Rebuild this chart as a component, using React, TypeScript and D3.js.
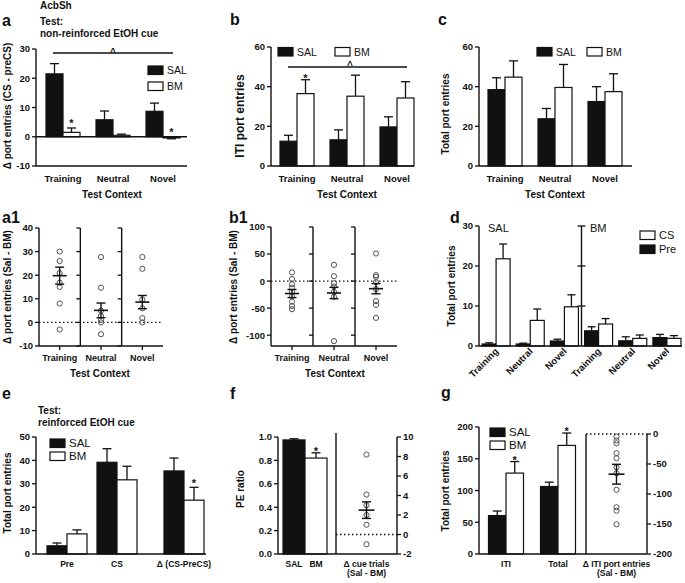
import React from "react";
import * as d3 from "d3";

const FONT = "'Liberation Sans', Arial, Helvetica, sans-serif";
const INK = "#111";

// ---------- data ----------
const contexts = ["Training", "Neutral", "Novel"];

// a: delta port entries (CS - preCS)
const aSalMean = [21.5, 5.8, 8.7];
const aSalSem = [3.5, 3.0, 2.8];
const aBmMean = [1.5, 0.5, -0.4];
const aBmSem = [1.5, 0.4, 0.3];

// b: ITI port entries
const bSalMean = [12.5, 13.2, 19.7];
const bSalSem = [3.0, 5.0, 5.1];
const bBmMean = [36.5, 35.2, 34.3];
const bBmSem = [7.0, 10.6, 8.2];

// c: total port entries
const cSalMean = [38.5, 23.8, 32.5];
const cSalSem = [6.0, 5.2, 7.5];
const cBmMean = [44.8, 39.6, 37.5];
const cBmSem = [8.2, 11.6, 9.0];

// a1: individual differences (Sal - BM)
const a1Training = [30, 26, 20.9, 16.8, 15, 8, -3];
const a1Neutral = [27.7, 14.7, 5, 2.7, 1.1, 0, -5];
const a1Novel = [27.7, 22.7, 9.7, 6, 1.8, 0];
const a1Mean = [19.8, 5.1, 8.6];
const a1Sem = [3.6, 3.1, 2.8];

// b1
const b1Training = [16, 3.7, -6, -12, -20, -28, -38, -46, -52];
const b1Neutral = [30, 9, -4, -10, -20, -29, -111];
const b1Novel = [51, 11, 8, -2, -15, -37, -44, -68];
const b1Mean = [-23, -22, -14];
const b1Sem = [7.5, 10.5, 9.5];

// d: pre vs CS per group & context
const dGroups = ["SAL", "BM"];
const dLabels = ["Training", "Neutral", "Novel", "Training", "Neutral", "Novel"];
const dPreMean = [0.5, 0.5, 1.25, 3.8, 1.3, 2.1];
const dPreSem = [0.3, 0.2, 0.45, 1.0, 1.0, 0.8];
const dCsMean = [21.8, 6.4, 9.8, 5.5, 1.9, 1.9];
const dCsSem = [3.7, 2.85, 3.0, 1.35, 0.85, 0.7];

// e: reinforced cue test
const eCats = ["Pre", "CS", "Δ (CS-PreCS)"];
const eCatOffset = [0, 1, 2.34];
const eSalMean = [3.5, 39.2, 35.5];
const eSalSem = [1.2, 5.8, 5.5];
const eBmMean = [8.6, 31.7, 23];
const eBmSem = [1.7, 5.8, 5.5];

// f: PE ratio
const fCats = ["SAL", "BM"];
const fMean = [0.975, 0.82];
const fSem = [0.01, 0.045];
const fDiff = [8.2, 4.1, 3.0, 2.0, 1.0, -1.0];
const fDiffMean = 2.5;
const fDiffSem = 0.85;

// g: ITI / total
const gCats = ["ITI", "Total"];
const gSalMean = [60.5, 106.3];
const gSalSem = [7.2, 6.8];
const gBmMean = [127.4, 171];
const gBmSem = [18.2, 19.5];
const gDiff = [-4.4, -11, -15.5, -32, -40.5, -55.5, -65.5, -93, -122, -127.8, -150.5];
const gDiffMean = -67;
const gDiffSem = 16.5;

// ---------- helpers ----------
const fmtInt = (v: number) => String(v);

function T(props: any) {
  const { children, size = 10, weight = "bold", anchor = "start", ...rest } = props;
  return (
    <text fontFamily={FONT} fontSize={size} fontWeight={weight} textAnchor={anchor} fill={INK} {...rest}>
      {children}
    </text>
  );
}

function YAxis({ y, x, ticks, side = "left", size = 9.5, len = 4, fmt = fmtInt, top, labels = true, both = false }: any) {
  const [b, t] = y.range();
  const dir = side === "left" ? -1 : 1;
  return (
    <g>
      <line x1={x} x2={x} y1={b} y2={top ?? t} stroke={INK} strokeWidth={1.4} />
      {ticks.map((v: number) => (
        <g key={v}>
          <line x1={both ? x - dir * len : x} x2={x + dir * len} y1={y(v)} y2={y(v)} stroke={INK} strokeWidth={1.3} />
          {labels && (
            <T x={x + dir * (len + 2)} y={y(v)} dy="0.36em" anchor={side === "left" ? "end" : "start"} size={size}>
              {fmt(v)}
            </T>
          )}
        </g>
      ))}
    </g>
  );
}

function HLine({ x1, x2, y, dash, width = 1.4 }: any) {
  return <line x1={x1} x2={x2} y1={y} y2={y} stroke={INK} strokeWidth={width} strokeDasharray={dash} />;
}

function Bar({ x, w, y, v, sem, fill, cap = 9 }: any) {
  const top = y(v);
  const base = y(0);
  const sign = v < 0 ? -1 : 1;
  const end = y(v + sign * sem);
  const cx = x + w / 2;
  return (
    <g>
      <line x1={cx} x2={cx} y1={top} y2={end} stroke={INK} strokeWidth={1.3} />
      <line x1={cx - cap / 2} x2={cx + cap / 2} y1={end} y2={end} stroke={INK} strokeWidth={1.3} />
      <rect x={x} y={Math.min(top, base)} width={w} height={Math.max(Math.abs(base - top), 0.8)} fill={fill} stroke={INK} strokeWidth={1.2} />
    </g>
  );
}

function Column({ cx, y, pts, mean, sem, meanW = 14, cap = 9, r = 2.6 }: any) {
  const m = y(mean);
  return (
    <g>
      {pts.map((p: number, i: number) => (
        <circle key={i} cx={cx} cy={y(p)} r={r} fill="none" stroke="#555" strokeWidth={1} />
      ))}
      <line x1={cx} x2={cx} y1={y(mean + sem)} y2={y(mean - sem)} stroke={INK} strokeWidth={1.4} />
      <line x1={cx - cap / 2} x2={cx + cap / 2} y1={y(mean + sem)} y2={y(mean + sem)} stroke={INK} strokeWidth={1.4} />
      <line x1={cx - cap / 2} x2={cx + cap / 2} y1={y(mean - sem)} y2={y(mean - sem)} stroke={INK} strokeWidth={1.4} />
      <line x1={cx - meanW / 2} x2={cx + meanW / 2} y1={m} y2={m} stroke={INK} strokeWidth={1.6} />
    </g>
  );
}

function Star({ x, yTop }: any) {
  return (
    <T x={x} y={yTop + 1} anchor="middle" size={11}>
      *
    </T>
  );
}

function LegendItem({ x, y, fill, label, size = 10 }: any) {
  return (
    <g>
      <rect x={x} y={y} width={15} height={8.5} fill={fill} stroke={INK} strokeWidth={1.2} />
      <T x={x + 19} y={y + 8.3} size={size} weight="normal">
        {label}
      </T>
    </g>
  );
}

function YTitle({ x, y, children, size = 10 }: any) {
  return (
    <T transform={`translate(${x},${y}) rotate(-90)`} anchor="middle" size={size}>
      {children}
    </T>
  );
}

// ---------- panels ----------
function PanelA() {
  const y = d3.scaleLinear().domain([-10, 30]).range([166, 49]);
  const x = d3.scaleBand().domain(contexts).range([38, 188]);
  const c = (k: string) => (x(k) as number) + x.bandwidth() / 2;
  const w = 17;
  const sigY = 53;
  return (
    <g>
      <T x={2} y={26} size={16}>a</T>
      <T x={40} y={9} size={10}>AcbSh</T>
      <T x={40} y={25} size={10}>Test:</T>
      <T x={40} y={36.5} size={10}>non-reinforced EtOH cue</T>
      {contexts.map((k, i) => (
        <g key={k}>
          <Bar x={c(k) - w} w={w} y={y} v={aSalMean[i]} sem={aSalSem[i]} fill={INK} />
          <Bar x={c(k)} w={w} y={y} v={aBmMean[i]} sem={aBmSem[i]} fill="#fff" />
        </g>
      ))}
      <HLine x1={36} x2={187} y={y(0)} />
      <HLine x1={36} x2={187} y={y(-10)} />
      <YAxis y={y} x={36} ticks={[-10, 0, 10, 20, 30]} />
      <HLine x1={c("Training") - 10} x2={c("Novel") + 10} y={sigY} />
      <T x={(c("Training") + c("Novel")) / 2} y={sigY + 2.6} anchor="middle" size={10}>^</T>
      <Star x={c("Training") + w / 2} yTop={y(aBmMean[0] + aBmSem[0]) - 1.5} />
      <Star x={c("Novel") + w / 2} yTop={y(0) - 2} />
      <LegendItem x={148} y={66} fill={INK} label="SAL" size={10.5} />
      <LegendItem x={148} y={82} fill="#fff" label="BM" size={10.5} />
      {contexts.map((k) => (
        <T key={k} x={c(k)} y={181.5} anchor="middle" size={9.5}>{k}</T>
      ))}
      <T x={112} y={198} anchor="middle" size={10}>Test Context</T>
      <YTitle x={10.5} y={106}>Δ port entries (CS - preCS)</YTitle>
    </g>
  );
}

function PanelB() {
  const y = d3.scaleLinear().domain([0, 60]).range([166, 47]);
  const x = d3.scaleBand().domain(contexts).range([272, 422]);
  const c = (k: string) => (x(k) as number) + x.bandwidth() / 2;
  const w = 17;
  const sigY = 67;
  return (
    <g>
      <T x={230} y={25} size={16}>b</T>
      {contexts.map((k, i) => (
        <g key={k}>
          <Bar x={c(k) - w} w={w} y={y} v={bSalMean[i]} sem={bSalSem[i]} fill={INK} />
          <Bar x={c(k)} w={w} y={y} v={bBmMean[i]} sem={bBmSem[i]} fill="#fff" />
        </g>
      ))}
      <HLine x1={271} x2={414} y={y(0)} />
      <YAxis y={y} x={271} ticks={[0, 20, 40, 60]} />
      <HLine x1={c("Training") - 9} x2={c("Novel") + 10} y={sigY} />
      <T x={(c("Training") + c("Novel")) / 2 + 3} y={sigY + 1.8} anchor="middle" size={10}>^</T>
      <Star x={c("Training") + w / 2} yTop={y(bBmMean[0] + bBmSem[0]) + 1} />
      <LegendItem x={278} y={47.5} fill={INK} label="SAL" size={10.5} />
      <LegendItem x={335} y={47.5} fill="#fff" label="BM" size={10.5} />
      {contexts.map((k) => (
        <T key={k} x={c(k)} y={181.5} anchor="middle" size={9.5}>{k}</T>
      ))}
      <T x={347} y={198} anchor="middle" size={10}>Test Context</T>
      <YTitle x={244} y={116} size={12}>ITI port entries</YTitle>
    </g>
  );
}

function PanelC() {
  const y = d3.scaleLinear().domain([0, 60]).range([166, 47]);
  const x = d3.scaleBand().domain(contexts).range([480, 630]);
  const c = (k: string) => (x(k) as number) + x.bandwidth() / 2;
  const w = 17;
  return (
    <g>
      <T x={438} y={25} size={16}>c</T>
      {contexts.map((k, i) => (
        <g key={k}>
          <Bar x={c(k) - w} w={w} y={y} v={cSalMean[i]} sem={cSalSem[i]} fill={INK} />
          <Bar x={c(k)} w={w} y={y} v={cBmMean[i]} sem={cBmSem[i]} fill="#fff" />
        </g>
      ))}
      <HLine x1={479} x2={632} y={y(0)} />
      <YAxis y={y} x={479} ticks={[0, 20, 40, 60]} />
      <LegendItem x={537} y={47.5} fill={INK} label="SAL" size={10.5} />
      <LegendItem x={587} y={47.5} fill="#fff" label="BM" size={10.5} />
      {contexts.map((k) => (
        <T key={k} x={c(k)} y={181.5} anchor="middle" size={9.5}>{k}</T>
      ))}
      <T x={555} y={198} anchor="middle" size={10}>Test Context</T>
      <YTitle x={449} y={114}>Total port entries</YTitle>
    </g>
  );
}

function PanelA1() {
  const y = d3.scaleLinear().domain([-10, 40]).range([346, 228]);
  const x = d3.scaleBand().domain(contexts).range([39, 163]);
  const c = (k: string) => (x(k) as number) + x.bandwidth() / 2;
  const ticks = [-10, 0, 10, 20, 30, 40];
  const pts = [a1Training, a1Neutral, a1Novel];
  return (
    <g>
      <T x={2} y={223} size={16}>a1</T>
      <HLine x1={39} x2={163} y={y(0)} dash="1.5,2.5" width={1.3} />
      {contexts.slice(1).map((k) => (
        <YAxis key={k} y={y} x={x(k)} ticks={ticks} labels={false} />
      ))}
      {contexts.map((k, i) => (
        <g key={k}>
          <Column cx={c(k)} y={y} pts={pts[i]} mean={a1Mean[i]} sem={a1Sem[i]} />
          <line x1={c(k)} x2={c(k)} y1={346} y2={350} stroke={INK} strokeWidth={1.3} />
          <T x={c(k)} y={361} anchor="middle" size={9}>{k}</T>
        </g>
      ))}
      <HLine x1={39} x2={163} y={346} />
      <YAxis y={y} x={39} ticks={ticks} />
      <T x={100} y={377} anchor="middle" size={10}>Test Context</T>
      <YTitle x={10.5} y={287}>Δ port entries (Sal - BM)</YTitle>
    </g>
  );
}

function PanelB1() {
  const y = d3.scaleLinear().domain([-120, 100]).range([346, 227]);
  const x = d3.scaleBand().domain(contexts).range([271, 397]);
  const c = (k: string) => (x(k) as number) + x.bandwidth() / 2;
  const ticks = [-100, -50, 0, 50, 100];
  const pts = [b1Training, b1Neutral, b1Novel];
  return (
    <g>
      <T x={229} y={223} size={16}>b1</T>
      <HLine x1={271} x2={397} y={y(0)} dash="1.5,2.5" width={1.3} />
      {contexts.slice(1).map((k) => (
        <YAxis key={k} y={y} x={x(k)} ticks={ticks} labels={false} top={227} />
      ))}
      {contexts.map((k, i) => (
        <g key={k}>
          <Column cx={c(k)} y={y} pts={pts[i]} mean={b1Mean[i]} sem={b1Sem[i]} />
          <line x1={c(k)} x2={c(k)} y1={346} y2={350} stroke={INK} strokeWidth={1.3} />
          <T x={c(k)} y={361} anchor="middle" size={9}>{k}</T>
        </g>
      ))}
      <HLine x1={271} x2={397} y={346} />
      <YAxis y={y} x={271} ticks={ticks} />
      <T x={335} y={377} anchor="middle" size={10}>Test Context</T>
      <YTitle x={237} y={287}>Δ port entries (Sal - BM)</YTitle>
    </g>
  );
}

function PanelD() {
  const y = d3.scaleLinear().domain([0, 30]).range([346, 226]);
  const idx = dLabels.map((_, i) => String(i));
  const x = d3.scaleBand().domain(idx).range([479, 684]);
  const c = (i: number) => (x(String(i)) as number) + x.bandwidth() / 2;
  const w = 14;
  return (
    <g>
      <T x={450} y={223} size={16}>d</T>
      {dLabels.map((k, i) => (
        <g key={i}>
          <Bar x={c(i) - w} w={w} y={y} v={dPreMean[i]} sem={dPreSem[i]} fill={INK} cap={8} />
          <Bar x={c(i)} w={w} y={y} v={dCsMean[i]} sem={dCsSem[i]} fill="#fff" cap={8} />
          <T transform={`translate(${c(i) + 3},${352}) rotate(-45)`} anchor="end" size={9.5}>{k}</T>
        </g>
      ))}
      <HLine x1={479} x2={682} y={y(0)} />
      <YAxis y={y} x={479} ticks={[0, 10, 20, 30]} />
      <YAxis y={y} x={x("3")} ticks={[10, 20, 30]} labels={false} both={true} />
      <T x={488} y={232} size={11} weight="normal">{dGroups[0]}</T>
      <T x={590} y={232} size={11} weight="normal">{dGroups[1]}</T>
      <LegendItem x={640} y={231} fill="#fff" label="CS" size={11} />
      <LegendItem x={640} y={245} fill={INK} label="Pre" size={11} />
      <YTitle x={455} y={286}>Total port entries</YTitle>
    </g>
  );
}

function PanelE() {
  const y = d3.scaleLinear().domain([0, 50]).range([554, 437]);
  const pos = d3.scaleLinear().domain([0, 2.34]).range([67, 184]);
  const w = 20;
  return (
    <g>
      <T x={2} y={399} size={16}>e</T>
      <T x={38} y={414} size={10}>Test:</T>
      <T x={38} y={425.5} size={10}>reinforced EtOH cue</T>
      {eCats.map((k, i) => {
        const cx = pos(eCatOffset[i]);
        return (
          <g key={k}>
            <Bar x={cx - w} w={w} y={y} v={eSalMean[i]} sem={eSalSem[i]} fill={INK} />
            <Bar x={cx} w={w} y={y} v={eBmMean[i]} sem={eBmSem[i]} fill="#fff" />
            <T x={cx} y={567} anchor="middle" size={8.5}>{k}</T>
          </g>
        );
      })}
      <HLine x1={36} x2={206} y={y(0)} />
      <YAxis y={y} x={36} ticks={[0, 10, 20, 30, 40, 50]} size={9.5} />
      <Star x={pos(eCatOffset[2]) + w / 2} yTop={y(eBmMean[2] + eBmSem[2]) - 1} />
      <LegendItem x={50} y={439} fill={INK} label="SAL" size={11.5} />
      <LegendItem x={50} y={452} fill="#fff" label="BM" size={11.5} />
      <YTitle x={11} y={493}>Total port entries</YTitle>
    </g>
  );
}

function PanelF() {
  const yL = d3.scaleLinear().domain([0, 1]).range([554, 437]);
  const yR = d3.scaleLinear().domain([-2, 10]).range([554, 437]);
  const x = d3.scaleBand().domain(fCats).range([283, 327]);
  const divX = 336;
  const rightX = 397;
  const dotX = (divX + rightX) / 2;
  return (
    <g>
      <T x={230} y={399} size={16}>f</T>
      {fCats.map((k, i) => (
        <g key={k}>
          <Bar x={x(k)} w={x.bandwidth()} y={yL} v={fMean[i]} sem={fSem[i]} fill={i === 0 ? INK : "#fff"} />
          <T x={(x(k) as number) + x.bandwidth() / 2} y={567} anchor="middle" size={8.5}>{k}</T>
        </g>
      ))}
      <Star x={(x("BM") as number) + x.bandwidth() / 2} yTop={yL(fMean[1] + fSem[1]) + 1} />
      <HLine x1={divX} x2={rightX} y={yR(0)} dash="1.5,2.5" width={1.3} />
      <Column cx={dotX} y={yR} pts={fDiff} mean={fDiffMean} sem={fDiffSem} meanW={16} />
      <line x1={divX} x2={divX} y1={433} y2={554} stroke={INK} strokeWidth={1.4} />
      <HLine x1={278} x2={rightX} y={554} />
      <YAxis y={yL} x={278} ticks={[0, 0.2, 0.4, 0.6, 0.8, 1.0]} fmt={(v: number) => v.toFixed(1)} size={9.5} />
      <YAxis y={yR} x={rightX} ticks={[-2, 0, 2, 4, 6, 8, 10]} side="right" size={9.5} />
      <T x={dotX} y={567} anchor="middle" size={8.5}>Δ cue trials</T>
      <T x={dotX} y={576} anchor="middle" size={8.5}>(Sal - BM)</T>
      <YTitle x={244} y={489}>PE ratio</YTitle>
    </g>
  );
}

function PanelG() {
  const yL = d3.scaleLinear().domain([0, 200]).range([554, 427]);
  const yR = d3.scaleLinear().domain([-200, 0]).range([554, 434]);
  const x = d3.scaleBand().domain(gCats).range([480, 584]);
  const c = (k: string) => (x(k) as number) + x.bandwidth() / 2;
  const w = 17.5;
  const divX = 586;
  const rightX = 647;
  const dotX = (divX + rightX) / 2;
  return (
    <g>
      <T x={441} y={398} size={16}>g</T>
      {gCats.map((k, i) => (
        <g key={k}>
          <Bar x={c(k) - w} w={w} y={yL} v={gSalMean[i]} sem={gSalSem[i]} fill={INK} />
          <Bar x={c(k)} w={w} y={yL} v={gBmMean[i]} sem={gBmSem[i]} fill="#fff" />
          <Star x={c(k) + w / 2} yTop={yL(gBmMean[i] + gBmSem[i]) + 1} />
          <T x={c(k)} y={567} anchor="middle" size={8.5}>{k}</T>
        </g>
      ))}
      <HLine x1={divX} x2={rightX} y={yR(0)} dash="1.5,2.5" width={1.3} />
      <Column cx={dotX} y={yR} pts={gDiff} mean={gDiffMean} sem={gDiffSem} meanW={16} />
      <line x1={divX} x2={divX} y1={434} y2={554} stroke={INK} strokeWidth={1.4} />
      <HLine x1={479} x2={rightX} y={554} />
      <YAxis y={yL} x={479} ticks={[0, 50, 100, 150, 200]} size={9.5} />
      <YAxis y={yR} x={rightX} ticks={[-200, -150, -100, -50, 0]} side="right" size={9.5} />
      <LegendItem x={490} y={428} fill={INK} label="SAL" size={11.5} />
      <LegendItem x={490} y={441} fill="#fff" label="BM" size={11.5} />
      <T x={dotX} y={567} anchor="middle" size={8.5}>Δ ITI port entries</T>
      <T x={dotX} y={576} anchor="middle" size={8.5}>(Sal - BM)</T>
      <YTitle x={449} y={491}>Total port entries</YTitle>
    </g>
  );
}

export default function App() {
  return (
    <div style={{ position: "absolute", left: 0, top: 0, width: 685, height: 583, background: "#fff" }}>
      <svg width={685} height={583} viewBox="0 0 685 583" style={{ display: "block" }}>
        <rect x={0} y={0} width={685} height={583} fill="#fff" />
        <PanelA />
        <PanelB />
        <PanelC />
        <PanelA1 />
        <PanelB1 />
        <PanelD />
        <PanelE />
        <PanelF />
        <PanelG />
      </svg>
    </div>
  );
}
